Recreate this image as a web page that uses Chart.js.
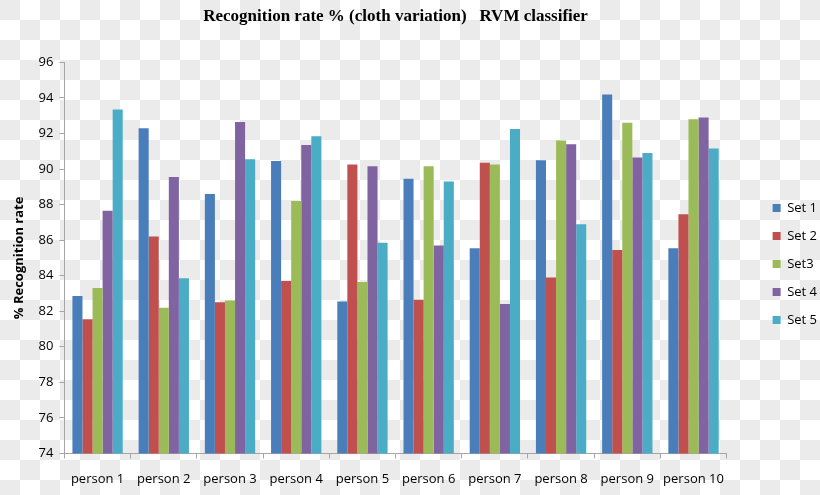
<!DOCTYPE html>
<html>
<head>
<meta charset="utf-8">
<script src="https://cdn.jsdelivr.net/npm/chart.js@4"></script>
<style>
  html, body { margin: 0; padding: 0; }
  body {
    width: 820px; height: 495px;
    background: repeating-conic-gradient(from 90deg, #ebebeb 0% 25%, #ffffff 0% 50%) 0 0 / 40px 40px;
  }
  #wrap { width: 820px; height: 495px; overflow: hidden; }
</style>
</head>
<body>
<div id="wrap"><canvas id="bar"></canvas></div>
<script>
const labels = ["person 1", "person 2", "person 3", "person 4", "person 5", "person 6", "person 7", "person 8", "person 9", "person 10"];
const set1 = [82.85, 92.3, 88.6, 90.45, 82.55, 89.45, 85.55, 90.5, 94.2, 85.55];
const set2 = [81.55, 86.2, 82.5, 83.7, 90.25, 82.65, 90.35, 83.9, 85.45, 87.45];
const set3 = [83.3, 82.2, 82.6, 88.2, 83.65, 90.15, 90.25, 91.6, 92.6, 92.8];
const set4 = [87.65, 89.55, 92.65, 91.35, 90.15, 85.7, 82.4, 91.4, 90.65, 92.9];
const set5 = [93.35, 83.85, 90.55, 91.85, 85.85, 89.3, 92.25, 86.9, 90.9, 91.15];

const axisGrey = "#a6a6a6";

new Chart(document.getElementById("bar"), {
  type: "bar",
  data: {
    labels: labels,
    datasets: [
      { label: "Set 1", data: set1, backgroundColor: "#4a7ebb" },
      { label: "Set 2", data: set2, backgroundColor: "#c0504d" },
      { label: "Set3", data: set3, backgroundColor: "#9bbb59" },
      { label: "Set 4", data: set4, backgroundColor: "#8064a2" },
      { label: "Set 5", data: set5, backgroundColor: "#4bacc6" },
    ],
  },
  options: {
    responsive: true,
    maintainAspectRatio: false,
    animation: false,
    datasets: { bar: { categoryPercentage: 0.76, barPercentage: 1.0 } },
    layout: { padding: { top: 4, right: -7, left: 5, bottom: -5 } },
    plugins: {
      title: {
        display: true,
        fullSize: false,
        text: "Recognition rate % (cloth variation)   RVM classifier",
        color: "#000",
        font: { family: "Liberation Serif", size: 17, weight: "bold" },
        padding: { top: 2, bottom: 36 },
      },
      legend: {
        position: "right",
        title: { display: true, text: " ", font: { size: 10 }, padding: 6 },
        labels: {
          color: "#000",
          boxWidth: 8,
          boxHeight: 8,
          padding: 15,
          font: { family: "Open Sans", size: 13 },
        },
      },
      tooltip: { enabled: false },
    },
    scales: {
      x: {
        grid: { display: true, drawOnChartArea: false, color: axisGrey, tickLength: 5, offset: true },
        border: { color: axisGrey },
        ticks: { color: "#000", font: { family: "Open Sans", size: 13 }, maxRotation: 0, padding: 13 },
      },
      y: {
        min: 74,
        max: 96,
        grid: { display: true, drawOnChartArea: false, color: axisGrey, tickLength: 5 },
        border: { color: axisGrey },
        ticks: { stepSize: 2, color: "#000", font: { family: "Open Sans", size: 13 }, padding: 6 },
        title: {
          display: true,
          text: "% Recognition rate",
          color: "#000",
          font: { family: "Open Sans", size: 13, weight: "bold" },
          padding: 6,
        },
      },
      // empty spacer between the plot and the legend
      gap: {
        type: "linear",
        position: "right",
        grid: { display: false },
        border: { display: false },
        ticks: { display: false },
        afterFit: (s) => { s.width = 31; },
      },
    },
  },
});
</script>
</body>
</html>
